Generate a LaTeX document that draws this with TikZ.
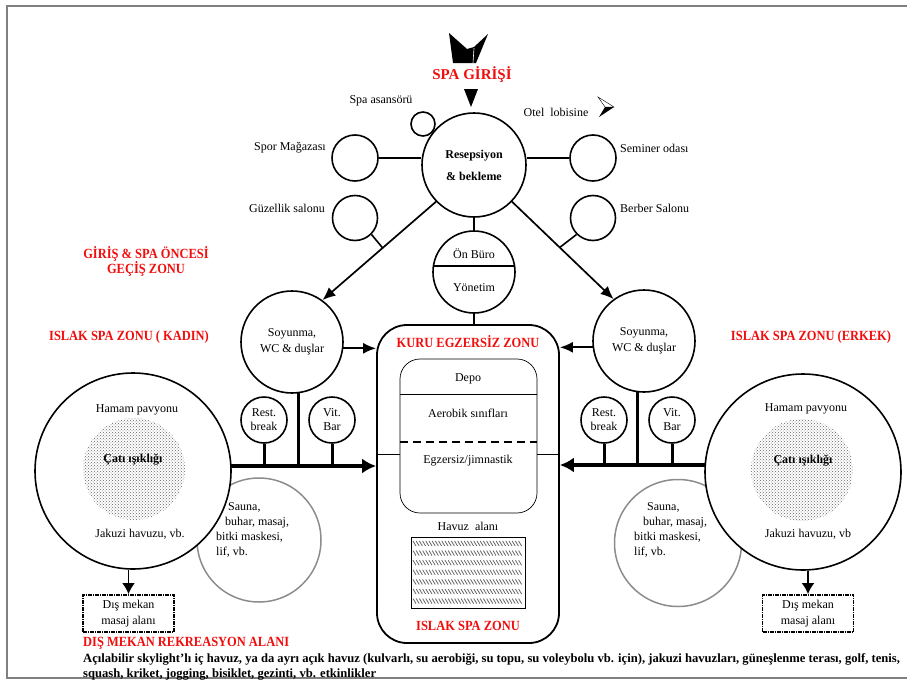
\documentclass[tikz,border=0pt]{standalone}
\usepackage{fontspec}
\setmainfont{Liberation Serif}
\newfontfamily\zonefont[FakeStretch=0.89]{Liberation Serif}
\usepackage{tikz}
\usetikzlibrary{arrows.meta, patterns}
\definecolor{zonered}{rgb}{0.95, 0.05, 0.05}
\definecolor{framegray}{rgb}{0.5, 0.5, 0.5}
\definecolor{saunagray}{rgb}{0.55, 0.55, 0.55}

\begin{document}
\begin{tikzpicture}[x=1pt, y=-1pt]
    \tikzstyle{room_style} = [circle, draw, line width=1.6pt, fill=white, inner sep=0pt, align=center, font=\fontsize{12}{14}\selectfont]
    \tikzstyle{sauna_style} = [circle, draw=saunagray, line width=1.5pt, inner sep=0pt]
    \tikzstyle{sky_style} = [circle, pattern=crosshatch dots, pattern color=black!60, inner sep=0pt, minimum size=102pt]
    \tikzstyle{label_style} = [inner sep=0pt, align=center, font=\fontsize{12}{14}\selectfont]
    \tikzstyle{zone_style} = [inner sep=0pt, align=center, text=zonered, font=\zonefont\bfseries\fontsize{14}{15}\selectfont]
    \tikzstyle{link_style} = [line width=1.6pt]
    \tikzstyle{stem_style} = [line width=3pt]
    \tikzstyle{arrow_style} = [-{Latex[length=13pt, width=11pt]}, line width=1.7pt]
    \tikzstyle{bus_style} = [-{Latex[length=14pt, width=15pt]}, line width=3.6pt]
    \tikzstyle{outdoor_style} = [draw, line width=1.8pt, dash pattern=on 4pt off 1pt on 1pt off 1pt, minimum width=91pt, minimum height=37pt, inner sep=0pt, align=center, font=\fontsize{12}{16}\selectfont]

    \useasboundingbox (0,0) rectangle (907,680);
    \draw[framegray, line width=1.5pt] (907,6) -- (7,6) -- (7,678) -- (907,678);

    % entrance
    \fill (449,33) -- (467,49) -- (474,47) -- (488,34) -- (476,63) -- (453,63) -- cycle;
    \draw[white, line width=0.6pt] (474,48) -- (473,63);
    \node[zone_style, font=\bfseries\fontsize{15}{16}\selectfont] (entry) at (472,75) {SPA GİRİŞİ};
    \fill (464,89) -- (478,89) -- (471,107) -- cycle;

    % reception ring
    \node[room_style, minimum size=24pt] (lift) at (423,124) {};
    \node[room_style, minimum size=104pt, font=\bfseries\fontsize{12}{14}\selectfont] (resep) at (474,165) {Resepsiyon\\[8pt]\& bekleme};
    \node[room_style, minimum size=46pt] (spor) at (355,158) {};
    \node[room_style, minimum size=46pt] (seminer) at (593,158) {};
    \node[room_style, minimum size=45pt] (guzel) at (355,218) {};
    \node[room_style, minimum size=45pt] (berber) at (593,218) {};

    \node[label_style] (lift_label) at (381,101) {Spa asansörü};
    \node[label_style] (lobby_label) at (556,112) {Otel~ lobisine};
    \node[label_style, anchor=east] (spor_label) at (326,148) {Spor Mağazası};
    \node[label_style, anchor=east] (guzel_label) at (325,208) {Güzellik salonu};
    \node[label_style, anchor=west] (seminer_label) at (620,148) {Seminer odası};
    \node[label_style, anchor=west] (berber_label) at (620,208) {Berber Salonu};
    \draw (598,97) -- (614,107) -- (605,107) -- cycle;
    \fill (605,107) -- (614,107) -- (599,117) -- cycle;

    \draw[link_style] (spor.east) -- (spor.east -| resep.west);
    \draw[link_style] (seminer.west) -- (seminer.west -| resep.east);

    % changing rooms
    \node[room_style, minimum size=102pt] (soyL) at (292,342) {Soyunma,\\[2pt]WC \& duşlar};
    \node[room_style, minimum size=102pt] (soyR) at (644,341) {Soyunma,\\[2pt]WC \& duşlar};
    \draw[arrow_style] (resep.224) -- (soyL.54) coordinate[pos=0.47] (guzel_tap);
    \draw[arrow_style] (resep.-44) -- (soyR.126) coordinate[pos=0.47] (berber_tap);
    \draw[link_style] (guzel.-45) -- (guzel_tap);
    \draw[link_style] (berber.-135) -- (berber_tap);

    % front office
    \node[room_style, minimum size=82pt] (onburo) at (474,272) {};
    \draw[link_style] (onburo.172) -- (onburo.8);
    \node[label_style] (onburo_top) at (474,254) {Ön Büro};
    \node[label_style] (onburo_bot) at (474,288) {Yönetim};
    \draw[link_style] (resep.south) -- (onburo.north);

    % central zone
    \node[draw, rounded corners=30pt, line width=1.8pt, minimum width=182pt, minimum height=318pt, inner sep=0pt] (kuru) at (468,484) {};
    \node[draw, rounded corners=20pt, line width=0.7pt, minimum width=137pt, minimum height=154pt, inner sep=0pt] (egz) at (468.5,436) {};
    \draw[link_style] (onburo.south) -- (onburo.south |- kuru.north);
    \draw[line width=0.8pt] (egz.west |- 0,394) -- (egz.east |- 0,394);
    \draw[line width=2.4pt, dash pattern=on 8pt off 5pt] (egz.west |- 0,442) -- (egz.east |- 0,442);
    \draw[line width=0.8pt] (kuru.west |- 0,454) -- (egz.west |- 0,454);
    \draw[line width=0.8pt] (egz.east |- 0,454) -- (kuru.east |- 0,454);
    \node[zone_style] (kuru_title) at (468,342) {KURU EGZERSİZ ZONU};
    \node[label_style] (depo) at (468,379) {Depo};
    \node[label_style] (aerobik) at (468,413) {Aerobik sınıfları};
    \node[label_style] (jimnastik) at (468,461) {Egzersiz/jimnastik};
    \node[label_style] (havuz) at (468,526) {Havuz~ alanı};
    \draw[line width=0.9pt] (411,537) rectangle (525,608);
    \foreach \r in {0,...,6}
        \foreach \c in {0,...,33}
            \draw[black!60, line width=0.8pt] (413+\c*3.2, 541+\r*9.6) -- ++(3,5);
    \node[zone_style] (islak_title) at (468,626) {ISLAK SPA ZONU};

    \draw[arrow_style] (soyL.-7) -- (soyL.-7 -| kuru.west);
    \draw[arrow_style] (soyR.187) -- (soyR.187 -| kuru.east);

    % break and bar
    \node[room_style, minimum size=46pt] (restL) at (264,420) {Rest.\\break};
    \node[room_style, minimum size=46pt] (vitL) at (332,420) {Vit.\\Bar};
    \node[room_style, minimum size=46pt] (restR) at (604,420) {Rest.\\break};
    \node[room_style, minimum size=46pt] (vitR) at (672,420) {Vit.\\Bar};

    % sauna
    \node[sauna_style, minimum size=124pt] (saunaL) at (259,540) {};
    \node[sauna_style, minimum size=127pt] (saunaR) at (678,543) {};
    \node[label_style, anchor=west, align=left, font=\fontsize{12}{15}\selectfont] (saunaL_text) at (216,530) {\hspace{12pt}Sauna,\\\hspace{9pt}buhar, masaj,\\bitki maskesi,\\lif, vb.};
    \node[label_style, anchor=west, align=left, font=\fontsize{12}{15}\selectfont] (saunaR_text) at (634,530) {\hspace{13pt}Sauna,\\\hspace{9pt}buhar, masaj,\\bitki maskesi,\\lif, vb.};

    % hamam
    \node[room_style, minimum size=196pt] (hamL) at (133,471) {};
    \node[room_style, minimum size=196pt] (hamR) at (803,472) {};
    \node[sky_style] (skyL) at (134,469) {};
    \node[sky_style] (skyR) at (802,470) {};
    \node[label_style] (hamL_top) at (137,410) {Hamam pavyonu};
    \node[label_style, font=\bfseries\fontsize{12}{14}\selectfont] (skyL_text) at (133,460) {Çatı ışıklığı};
    \node[label_style] (hamL_bot) at (140,534) {Jakuzi havuzu, vb.};
    \node[label_style] (hamR_top) at (806,409) {Hamam pavyonu};
    \node[label_style, font=\bfseries\fontsize{12}{14}\selectfont] (skyR_text) at (803,461) {Çatı ışıklığı};
    \node[label_style] (hamR_bot) at (808,534) {Jakuzi havuzu, vb};

    % wet zone bus
    \coordinate (busL) at (231,466);
    \coordinate (busR) at (705,465);
    \draw[bus_style] (busL) -- (busL -| kuru.west);
    \draw[bus_style] (busR) -- (busR -| kuru.east);
    \draw[stem_style] (restL.south) -- (restL.south |- busL);
    \draw[stem_style] (soyL.-83) -- (soyL.-83 |- busL);
    \draw[stem_style] (vitL.south) -- (vitL.south |- busL);
    \draw[stem_style] (restR.south) -- (restR.south |- busR);
    \draw[stem_style] (soyR.263) -- (soyR.263 |- busR);
    \draw[stem_style] (vitR.south) -- (vitR.south |- busR);

    % outdoor massage
    \node[outdoor_style] (disL) at (128.5,613.5) {Dış mekan\\masaj alanı};
    \node[outdoor_style] (disR) at (808,613.5) {Dış mekan\\masaj alanı};
    \draw[-{Latex[length=11pt, width=13pt]}, line width=1.8pt] (disL.north |- hamL.south) -- (disL.north);
    \draw[-{Latex[length=11pt, width=13pt]}, line width=1.8pt] (disR.north |- hamR.south) -- (disR.north);

    % zone titles
    \node[zone_style] (giris_title) at (146,261) {GİRİŞ \& SPA ÖNCESİ\\GEÇİŞ ZONU};
    \node[zone_style] (kadin_title) at (129,337) {ISLAK SPA ZONU ( KADIN)};
    \node[zone_style] (erkek_title) at (811,337) {ISLAK SPA ZONU (ERKEK)};
    \node[zone_style, anchor=west] (dis_title) at (83,643) {DIŞ MEKAN REKREASYON ALANI};
    \node[label_style, anchor=west, font=\bfseries\fontsize{12.6}{14}\selectfont] (dis_line1) at (83,659) {Açılabilir skylight'lı iç havuz, ya da ayrı açık havuz (kulvarlı, su aerobiği, su topu, su voleybolu vb. için), jakuzi havuzları, güneşlenme terası, golf, tenis,};
    \node[label_style, anchor=west, font=\bfseries\fontsize{12.6}{14}\selectfont] (dis_line2) at (83,675) {squash, kriket, jogging, bisiklet, gezinti, vb. etkinlikler};
\end{tikzpicture}
\end{document}
